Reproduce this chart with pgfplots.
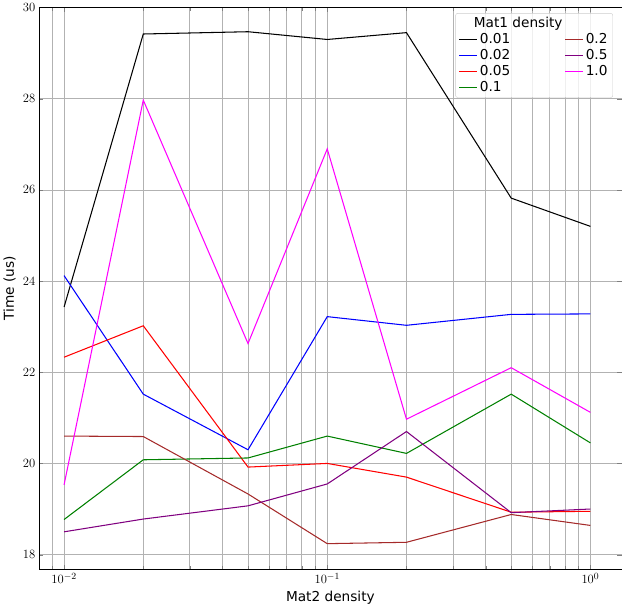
\documentclass[border=0pt]{standalone}
\usepackage{pgfplots}
\pgfplotsset{compat=1.18}
\usepackage{fontspec}
\setmainfont{DejaVu Sans}
\definecolor{mag}{RGB}{255,0,255}
\definecolor{brn}{RGB}{165,42,42}
\definecolor{pur}{RGB}{128,0,128}
\definecolor{grn}{RGB}{0,128,0}
\begin{document}
\begin{tikzpicture}
\begin{axis}[
  width=552bp, height=532bp, scale only axis,
  xmode=log, xmin=0.00803, xmax=1.315,
  ymin=17.68, ymax=30,
  ytick={18,20,...,30},
  grid=both, xminorgrids=true, yminorgrids=false,
  grid style={gray!60, line width=0.5pt},
  minor grid style={gray!60, line width=0.5pt},
  tick label style={font=\fontsize{13}{15}\selectfont},
  label style={font=\fontsize{13}{15}\selectfont},
  xlabel={Mat2 density}, ylabel={Time (us)},
  legend style={at={(0.985,0.99)}, anchor=north east, font=\fontsize{13}{15}\selectfont, draw=gray!40, rounded corners=2pt, fill opacity=0.8, text opacity=1},
  legend columns=5, legend cell align=left,
  legend transposed=true,
  every axis plot/.append style={line width=1pt},
]
\addlegendimage{empty legend}\addlegendentry{\hspace{-0.2cm}Mat1 density}
\addplot[black] coordinates {(0.01,23.43)(0.02,29.42)(0.05,29.47)(0.1,29.3)(0.2,29.45)(0.5,25.82)(1,25.2)};
\addlegendentry{0.01}
\addplot[blue] coordinates {(0.01,24.12)(0.02,21.52)(0.05,20.3)(0.1,23.22)(0.2,23.03)(0.5,23.27)(1,23.28)};
\addlegendentry{0.02}
\addplot[red] coordinates {(0.01,22.33)(0.02,23.02)(0.05,19.92)(0.1,20.0)(0.2,19.7)(0.5,18.93)(1,18.95)};
\addlegendentry{0.05}
\addplot[grn] coordinates {(0.01,18.77)(0.02,20.08)(0.05,20.12)(0.1,20.6)(0.2,20.22)(0.5,21.52)(1,20.45)};
\addlegendentry{0.1}
\addlegendimage{empty legend}\addlegendentry{}
\addplot[brn] coordinates {(0.01,20.6)(0.02,20.59)(0.05,19.33)(0.1,18.24)(0.2,18.27)(0.5,18.88)(1,18.64)};
\addlegendentry{0.2}
\addplot[pur] coordinates {(0.01,18.5)(0.02,18.78)(0.05,19.07)(0.1,19.55)(0.2,20.7)(0.5,18.92)(1,19.0)};
\addlegendentry{0.5}
\addplot[mag] coordinates {(0.01,19.53)(0.02,27.97)(0.05,22.63)(0.1,26.9)(0.2,20.97)(0.5,22.1)(1,21.12)};
\addlegendentry{1.0}
\addlegendimage{empty legend}\addlegendentry{}
\end{axis}
\end{tikzpicture}
\end{document}
